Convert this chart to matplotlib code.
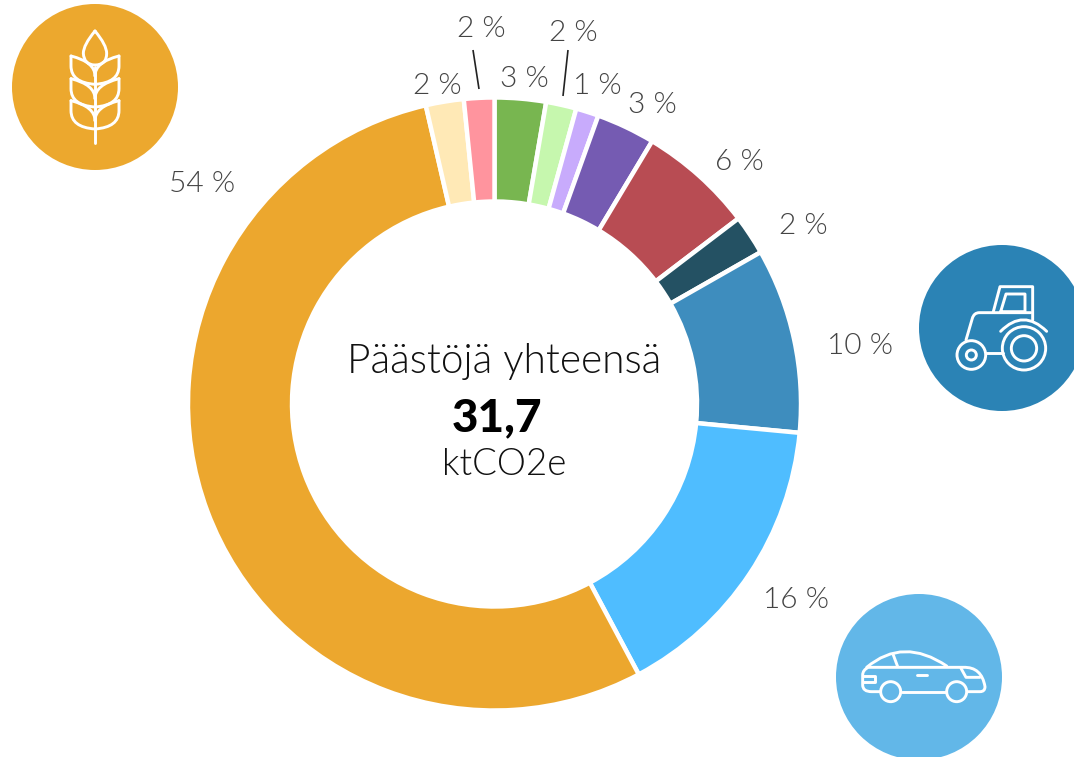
import matplotlib
matplotlib.use("Agg")
import matplotlib.pyplot as plt
from matplotlib.path import Path
from matplotlib.patches import PathPatch, Circle

# ---------- data ----------
sectors = ["Green", "Light green", "Light purple", "Purple", "Red", "Dark teal",
           "Blue", "Light blue", "Orange", "Cream", "Pink"]
values = [2.7, 1.6, 1.2, 3.1, 6.05, 2.1, 9.75, 15.7, 54.2, 2.0, 1.6]
labels = ["3 %", "2 %", "1 %", "3 %", "6 %", "2 %", "10 %", "16 %", "54 %", "2 %", "2 %"]
colors = ["#78B650", "#C6F7AE", "#C8ABFC", "#755BB2", "#B84C53", "#245163",
          "#3E8DBE", "#4FBDFF", "#ECA72E", "#FFE9B6", "#FF949E"]
title_text = "Päästöjä yhteensä"
total_text = "31,7"
unit_text = "ktCO2e"

# ---------- layout (pixels) ----------
W, H = 1074, 757
CX, CY, R_OUT, R_IN = 494.5, 404, 306.5, 202.5
label_xy = [(524, 79), (573, 33), (597, 86), (652, 105), (739, 162), (803, 226),
            (860, 346), (796, 600), (202, 184), (437, 86), (481, 29)]
FONT = ["Lato", "DejaVu Sans"]

fig = plt.figure(figsize=(W / 100, H / 100), dpi=100, facecolor="white")
pie_ax = fig.add_axes([(CX - R_OUT) / W, 1 - (CY + R_OUT) / H, 2 * R_OUT / W, 2 * R_OUT / H])
pie_ax.pie(values, colors=colors, startangle=90, counterclock=False, radius=1,
           wedgeprops=dict(width=(R_OUT - R_IN) / R_OUT, edgecolor="white", linewidth=3.2))
pie_ax.set_xlim(-1, 1)
pie_ax.set_ylim(-1, 1)
pie_ax.axis("off")

ax = fig.add_axes([0, 0, 1, 1], facecolor="none")
ax.set_xlim(0, W)
ax.set_ylim(H, 0)
ax.axis("off")

for txt, (x, y) in zip(labels, label_xy):
    ax.text(x, y, txt, ha="center", va="center", fontsize=21.5, color="#444444",
            family=FONT, fontweight=300)

ax.plot([473, 479], [50, 89], color="#222222", lw=1.2, solid_capstyle="butt")
ax.plot([568, 563], [50, 96], color="#222222", lw=1.2, solid_capstyle="butt")

ax.text(504, 361, title_text, ha="center", va="center", fontsize=29.2, color="#111111",
        family=FONT, fontweight=300)
ax.text(497, 418, total_text, ha="center", va="center", fontsize=33, color="black",
        family=FONT, fontweight="black")
ax.text(504, 465, unit_text, ha="center", va="center", fontsize=26.5, color="#111111",
        family=FONT, fontweight=300)


# ---------- icons ----------
def stroke(verts, codes, ox, oy):
    pts = [(ox + x / 3, oy + y / 3) for x, y in verts]
    ax.add_patch(PathPatch(Path(pts, codes), fc="none", ec="white", lw=2.1,
                           capstyle="round", joinstyle="round"))


def poly(verts, ox, oy):
    """First vertex is the start; then (x,y) is a line and (cx,cy,x,y) a quadratic curve."""
    pts, codes = [verts[0]], [Path.MOVETO]
    for v in verts[1:]:
        if len(v) == 2:
            pts.append(v)
            codes.append(Path.LINETO)
        else:
            pts += [v[:2], v[2:]]
            codes += [Path.CURVE3, Path.CURVE3]
    stroke(pts, codes, ox, oy)


def ring(x, y, r):
    ax.add_patch(Circle((x, y), r, fc="none", ec="white", lw=2.1))


# wheat
ax.add_patch(Circle((95, 87), 83, fc="#ECA82E", ec="none"))
ox, oy = 0, 0
poly([(285, 93), (250, 135, 250, 160), (252, 195, 285, 195), (320, 195, 320, 160),
      (320, 135, 285, 93)], ox, oy)
poly([(285, 200), (285, 430)], ox, oy)
for y0 in [168, 236, 302]:
    poly([(213, y0), (213, y0 + 30), (213, y0 + 80, 285, y0 + 85)], ox, oy)
    poly([(213, y0), (285, y0 + 18, 285, y0 + 60)], ox, oy)
    poly([(357, y0), (357, y0 + 30), (357, y0 + 80, 285, y0 + 85)], ox, oy)
    poly([(357, y0), (285, y0 + 18, 285, y0 + 60)], ox, oy)

# tractor
ax.add_patch(Circle((1002, 328), 83, fc="#2B83B5", ec="none", zorder=0))
ox, oy = 910, 240
poly([(250, 215), (270, 140), (368, 140), (368, 240)], ox, oy)
poly([(272, 215), (288, 162), (345, 162), (345, 215), (272, 215)], ox, oy)
poly([(168, 300), (187, 235), (192, 218, 208, 218), (362, 218)], ox, oy)
poly([(272, 274), (340, 205, 410, 274)], ox, oy)
poly([(228, 338), (280, 338)], ox, oy)
ring(ox + 342 / 3, oy + 325 / 3, 65 / 3)
ring(ox + 342 / 3, oy + 325 / 3, 38 / 3)
ring(ox + 184 / 3, oy + 345 / 3, 43 / 3)
ring(ox + 184 / 3, oy + 345 / 3, 15 / 3)

# car
ax.add_patch(Circle((919, 677), 83, fc="#62B7E8", ec="none", zorder=0))
ox, oy = 830, 590
poly([(150, 305), (125, 305), (98, 305, 98, 285), (98, 255), (98, 240, 115, 232),
      (400, 232), (455, 230, 465, 290), (465, 305, 450, 305), (412, 305)], ox, oy)
poly([(215, 305), (348, 305)], ox, oy)
poly([(110, 232), (220, 140, 350, 228)], ox, oy)
poly([(190, 195), (203, 230)], ox, oy)
poly([(393, 235), (408, 262), (450, 262)], ox, oy)
poly([(100, 258), (135, 258), (135, 277), (100, 277)], ox, oy)
poly([(262, 255), (290, 255)], ox, oy)
ring(ox + 182 / 3, oy + 305 / 3, 10)
ring(ox + 380 / 3, oy + 305 / 3, 10)

fig.savefig("out.png", dpi=100, facecolor="white")
